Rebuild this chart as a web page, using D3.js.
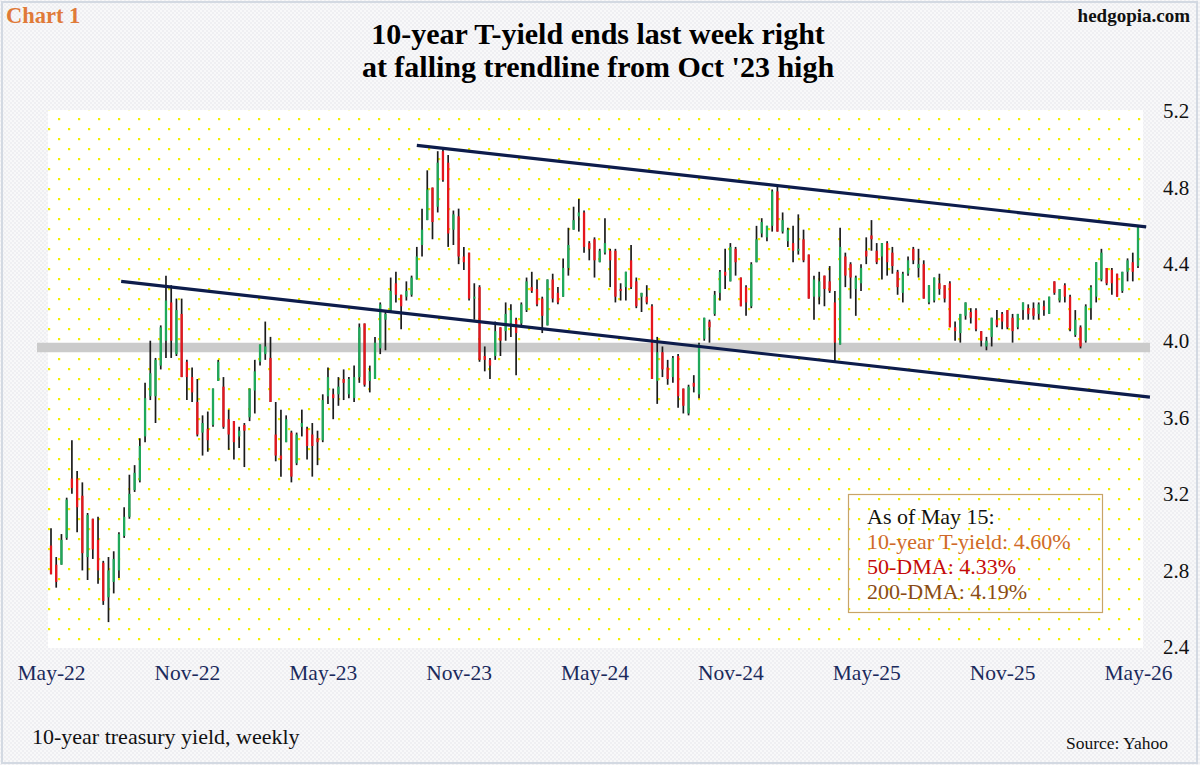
<!DOCTYPE html>
<html>
<head>
<meta charset="utf-8">
<script src="https://cdn.jsdelivr.net/npm/d3@7"></script>
<style>
  html, body { margin: 0; padding: 0; background: #ffffff; }
  svg { display: block; }
  text { font-family: "Liberation Serif", "Times New Roman", serif; }
</style>
</head>
<body>
<script>
// ---------------- DATA ----------------
const firstWeek = "2022-05-20";   // week ending date of first bar (weekly bars)
const opens = [2.93,2.83,2.83,2.97,3.28,3.28,3.19,2.87,3.07,2.96,2.84,2.66,2.74,2.80,2.98,3.08,3.22,3.27,3.50,3.71,
3.71,3.87,4.00,4.20,3.93,4.14,3.89,3.81,3.68,3.52,3.54,3.56,3.79,3.76,3.59,3.58,3.50,3.56,3.60,3.74,
3.89,3.93,3.91,3.51,3.40,3.47,3.52,3.36,3.55,3.54,3.51,3.49,3.48,3.71,3.72,3.72,3.80,3.72,3.70,3.81,
4.09,3.79,3.80,3.96,4.11,4.16,4.30,4.24,4.23,4.24,4.32,4.50,4.63,4.80,4.70,4.99,4.93,4.58,4.65,4.44,
4.46,4.22,4.28,3.92,3.90,3.92,4.07,4.05,4.09,4.11,4.09,4.16,4.28,4.27,4.22,4.08,4.32,4.25,4.23,4.38,
4.58,4.65,4.67,4.51,4.53,4.41,4.46,4.47,4.47,4.27,4.28,4.42,4.31,4.23,4.23,4.18,3.79,3.94,3.86,3.81,
3.92,3.75,3.62,3.78,3.72,4.01,4.10,4.14,4.25,4.36,4.31,4.48,4.33,4.28,4.18,4.41,4.56,4.54,4.60,4.78,
4.57,4.52,4.51,4.47,4.53,4.45,4.23,4.23,4.34,4.31,4.20,3.98,4.44,4.40,4.27,4.30,4.47,4.55,4.47,4.44,
4.51,4.46,4.36,4.25,4.35,4.48,4.38,4.40,4.20,4.21,4.30,4.29,4.30,4.07,4.04,4.13,4.15,4.16,4.05,3.97,
4.02,4.11,4.14,4.16,4.12,4.07,4.16,4.17,4.17,4.14,4.18,4.14,4.31,4.21,4.29,4.23,4.03,4.07,4.00,4.17,
4.23,4.32,4.38,4.37,4.35,4.26,4.36,4.41,4.39];
const highs = [3.02,2.87,2.99,3.18,3.48,3.32,3.26,3.10,3.07,3.08,2.85,2.87,2.90,3.00,3.13,3.30,3.35,3.49,3.78,4.00,
3.91,4.08,4.34,4.29,4.22,4.22,3.90,3.86,3.80,3.61,3.63,3.75,3.90,3.81,3.64,3.58,3.55,3.57,3.75,3.90,
3.98,4.10,4.02,3.68,3.64,3.61,3.53,3.52,3.64,3.55,3.57,3.53,3.72,3.86,3.75,3.81,3.85,3.81,3.87,4.09,
4.09,3.87,4.02,4.20,4.16,4.33,4.36,4.24,4.31,4.34,4.49,4.69,4.89,4.80,4.99,5.00,4.97,4.68,4.69,4.49,
4.46,4.30,4.29,3.97,3.91,4.10,4.07,4.20,4.19,4.12,4.20,4.33,4.36,4.32,4.23,4.32,4.35,4.28,4.43,4.59,
4.70,4.74,4.68,4.52,4.54,4.48,4.64,4.48,4.48,4.30,4.36,4.50,4.33,4.25,4.29,4.19,4.02,3.97,3.90,3.92,
3.93,3.75,3.77,3.82,3.99,4.12,4.11,4.26,4.37,4.48,4.51,4.49,4.33,4.29,4.41,4.60,4.64,4.60,4.79,4.81,
4.67,4.59,4.60,4.66,4.58,4.45,4.34,4.36,4.34,4.39,4.26,4.59,4.46,4.41,4.34,4.40,4.54,4.63,4.51,4.51,
4.52,4.49,4.37,4.36,4.44,4.49,4.48,4.42,4.29,4.33,4.35,4.29,4.31,4.10,4.14,4.20,4.17,4.17,4.05,4.02,
4.12,4.16,4.15,4.16,4.14,4.14,4.20,4.19,4.20,4.20,4.21,4.23,4.31,4.27,4.30,4.24,4.16,4.08,4.19,4.29,
4.41,4.48,4.38,4.38,4.35,4.36,4.43,4.46,4.60];
const lows = [2.78,2.71,2.83,2.96,3.20,3.00,2.80,2.75,2.86,2.73,2.62,2.53,2.68,2.76,2.97,3.07,3.21,3.26,3.47,3.69,
3.57,3.85,3.91,3.91,3.92,3.81,3.69,3.68,3.50,3.40,3.42,3.55,3.79,3.54,3.43,3.38,3.44,3.34,3.58,3.62,
3.87,3.90,3.68,3.37,3.29,3.47,3.26,3.35,3.50,3.38,3.29,3.35,3.47,3.67,3.59,3.66,3.69,3.70,3.68,3.78,
3.76,3.73,3.80,3.93,3.95,4.15,4.20,4.06,4.21,4.23,4.32,4.44,4.63,4.53,4.67,4.83,4.49,4.50,4.40,4.37,
4.21,4.11,3.89,3.84,3.80,3.90,3.92,4.00,4.02,3.82,4.08,4.15,4.25,4.18,4.04,4.08,4.20,4.19,4.23,4.34,
4.58,4.57,4.46,4.42,4.33,4.41,4.45,4.28,4.20,4.21,4.21,4.27,4.17,4.15,4.19,3.80,3.67,3.81,3.77,3.78,
3.65,3.62,3.61,3.73,3.70,4.00,3.99,4.13,4.21,4.27,4.31,4.34,4.18,4.13,4.17,4.41,4.54,4.52,4.57,4.57,
4.56,4.49,4.41,4.45,4.41,4.22,4.11,4.19,4.18,4.25,3.89,3.98,4.28,4.22,4.13,4.26,4.40,4.47,4.40,4.32,
4.34,4.35,4.24,4.20,4.34,4.40,4.33,4.22,4.19,4.20,4.24,4.20,4.07,4.00,3.99,4.11,4.09,4.05,3.97,3.95,
3.97,4.07,4.06,4.06,3.99,4.06,4.11,4.11,4.11,4.11,4.13,4.14,4.24,4.20,4.20,4.05,4.02,3.96,3.99,4.11,
4.20,4.31,4.29,4.24,4.23,4.25,4.31,4.31,4.38];
const closes = [2.78,2.74,2.96,3.17,3.23,3.13,2.89,3.09,2.91,2.80,2.64,2.80,2.86,2.99,3.08,3.20,3.31,3.45,3.70,3.83,
3.90,4.07,4.21,4.00,4.16,3.81,3.81,3.73,3.51,3.57,3.48,3.75,3.89,3.55,3.51,3.47,3.53,3.53,3.75,3.84,
3.98,3.97,3.68,3.40,3.38,3.59,3.29,3.51,3.57,3.45,3.45,3.47,3.69,3.81,3.70,3.76,3.78,3.80,3.81,4.07,
3.77,3.84,3.99,4.19,4.14,4.26,4.24,4.18,4.26,4.33,4.44,4.58,4.79,4.62,4.93,4.84,4.56,4.66,4.44,4.41,
4.22,4.23,3.90,3.90,3.87,4.05,4.00,4.14,4.16,4.04,4.19,4.31,4.26,4.19,4.13,4.32,4.22,4.20,4.38,4.50,
4.63,4.67,4.49,4.48,4.42,4.47,4.51,4.42,4.23,4.26,4.36,4.28,4.18,4.25,4.20,3.80,3.94,3.85,3.80,3.91,
3.71,3.66,3.76,3.76,3.98,4.12,4.07,4.24,4.36,4.34,4.49,4.41,4.18,4.20,4.40,4.53,4.62,4.60,4.78,4.57,
4.63,4.58,4.47,4.48,4.42,4.22,4.32,4.31,4.27,4.26,3.99,4.49,4.34,4.33,4.33,4.38,4.44,4.53,4.41,4.51,
4.41,4.39,4.28,4.35,4.42,4.42,4.40,4.22,4.29,4.33,4.27,4.22,4.07,4.05,4.14,4.20,4.12,4.06,4.00,4.00,
4.12,4.08,4.10,4.07,4.05,4.14,4.20,4.14,4.13,4.19,4.16,4.23,4.25,4.27,4.23,4.06,4.11,3.97,4.18,4.28,
4.41,4.46,4.30,4.30,4.23,4.36,4.42,4.36,4.60];

const xTickDates  = ["2022-05-20","2022-11-18","2023-05-19","2023-11-17","2024-05-17","2024-11-15","2025-05-16","2025-11-14","2026-05-15"];
const xTickLabels = ["May-22","Nov-22","May-23","Nov-23","May-24","Nov-24","May-25","Nov-25","May-26"];
const yTicks = [2.4, 2.8, 3.2, 3.6, 4.0, 4.4, 4.8, 5.2];

const supportLevel = 3.965;                                   // horizontal grey band
const upperTrend = [["2023-09-22", 5.02], ["2026-05-26", 4.595]];
const lowerTrend = [["2022-08-22", 4.31], ["2026-05-31", 3.705]];

const legendLines = ["As of May 15:", "10-year T-yield: 4.60%", "50-DMA: 4.33%", "200-DMA: 4.19%"];
const legendColors = ["#111111", "#cf6a2a", "#c40a0a", "#8a4c16"];

// ---------------- LAYOUT ----------------
const W = 1200, H = 765;
const plot = { left: 48, right: 1143, top: 110, bottom: 648 };

const parse = d3.timeParse("%Y-%m-%d");
const start = parse(firstWeek);
const dates = opens.map((_, i) => d3.timeDay.offset(start, 7 * i));
const bars = opens.map((o, i) => ({ date: dates[i], o, h: highs[i], l: lows[i], c: closes[i] }));

const x = d3.scaleTime().domain([dates[0], dates[dates.length - 1]]).range([51, 1138]);
const y = d3.scaleLinear().domain([2.4, 5.2]).range([647, 111]);

const svg = d3.select("body").append("svg").attr("width", W).attr("height", H);
const defs = svg.append("defs");

// outer subtle texture
const tex = defs.append("pattern").attr("id", "tex").attr("patternUnits", "userSpaceOnUse")
  .attr("width", 4).attr("height", 4);
tex.append("rect").attr("width", 4).attr("height", 4).attr("fill", "#f8f8f9");
tex.append("rect").attr("width", 2).attr("height", 2).attr("fill", "#efeff2");
tex.append("rect").attr("x", 2).attr("y", 2).attr("width", 2).attr("height", 2).attr("fill", "#efeff2");

// yellow dot grid
const dots = defs.append("pattern").attr("id", "dots").attr("patternUnits", "userSpaceOnUse")
  .attr("x", 58).attr("y", 118).attr("width", 20).attr("height", 20);
dots.append("rect").attr("width", 20).attr("height", 20).attr("fill", "#ffffff");
dots.append("rect").attr("x", 0).attr("y", 0).attr("width", 2.2).attr("height", 2.2).attr("fill", "#f3f000");
dots.append("rect").attr("x", 10).attr("y", 10).attr("width", 2.2).attr("height", 2.2).attr("fill", "#f3f000");

svg.append("rect").attr("width", W).attr("height", H).attr("fill", "url(#tex)");
svg.append("rect").attr("x", 2).attr("y", 2).attr("width", W - 5).attr("height", H - 4)
  .attr("fill", "none").attr("stroke", "#d3d9e2").attr("stroke-width", 2);

svg.append("rect").attr("x", plot.left).attr("y", plot.top)
  .attr("width", plot.right - plot.left).attr("height", plot.bottom - plot.top)
  .attr("fill", "url(#dots)");

// support band
svg.append("line").attr("x1", 37).attr("x2", 1150)
  .attr("y1", y(supportLevel)).attr("y2", y(supportLevel))
  .attr("stroke", "#cbcbcb").attr("stroke-width", 9.5);

// candles
const g = svg.append("g");
g.selectAll("line.wick").data(bars).join("line").attr("class", "wick")
  .attr("x1", d => x(d.date)).attr("x2", d => x(d.date))
  .attr("y1", d => y(d.h)).attr("y2", d => y(d.l))
  .attr("stroke", "#1b1b1b").attr("stroke-width", 1.7);
g.selectAll("rect.body").data(bars).join("rect").attr("class", "body")
  .attr("x", d => x(d.date) - 1.15).attr("width", 2.3)
  .attr("y", d => Math.min(y(d.o), y(d.c)))
  .attr("height", d => Math.max(1.2, Math.abs(y(d.o) - y(d.c))))
  .attr("fill", d => d.c >= d.o ? "#1fa85a" : "#e5161d");

// trendlines
const tl = d3.line().x(d => x(parse(d[0]))).y(d => y(d[1]));
[upperTrend, lowerTrend].forEach(t => {
  svg.append("path").attr("d", tl(t)).attr("fill", "none")
    .attr("stroke", "#0d1c4b").attr("stroke-width", 3.2).attr("stroke-linecap", "butt");
});

// x axis labels
const xAxis = d3.axisBottom(x).tickValues(xTickDates.map(parse))
  .tickFormat((d, i) => xTickLabels[i]).tickSize(0).tickPadding(0);
const xg = svg.append("g").attr("transform", "translate(0,665)").call(xAxis);
xg.select(".domain").remove();
xg.selectAll("text").attr("font-size", 21.5).attr("fill", "#1b2a5c")
  .attr("font-family", "Liberation Serif, serif").attr("dy", "0.71em");

// y axis labels (right)
const yAxis = d3.axisRight(y).tickValues(yTicks).tickFormat(d3.format(".1f")).tickSize(0).tickPadding(0);
const yg = svg.append("g").attr("transform", "translate(1163,0)").call(yAxis);
yg.select(".domain").remove();
yg.selectAll("text").attr("font-size", 21).attr("fill", "#111")
  .attr("font-family", "Liberation Serif, serif");

// titles
svg.append("text").attr("x", 6).attr("y", 23).attr("font-size", 22.5).attr("font-weight", "bold")
  .attr("fill", "#e07a38").text("Chart 1");
svg.append("text").attr("x", 1190).attr("y", 22).attr("text-anchor", "end").attr("font-size", 19)
  .attr("font-weight", "bold").attr("fill", "#111").text("hedgopia.com");
svg.append("text").attr("x", 598).attr("y", 44).attr("text-anchor", "middle").attr("font-size", 30)
  .attr("font-weight", "bold").attr("fill", "#000").text("10-year T-yield ends last week right");
svg.append("text").attr("x", 598).attr("y", 77).attr("text-anchor", "middle").attr("font-size", 30)
  .attr("font-weight", "bold").attr("fill", "#000").text("at falling trendline from Oct '23 high");

svg.append("text").attr("x", 32).attr("y", 744).attr("font-size", 22).attr("fill", "#111")
  .text("10-year treasury yield, weekly");
svg.append("text").attr("x", 1168).attr("y", 749).attr("text-anchor", "end").attr("font-size", 17.5)
  .attr("fill", "#111").text("Source: Yahoo");

// legend box
svg.append("rect").attr("x", 848.5).attr("y", 494.5).attr("width", 254).attr("height", 118)
  .attr("fill", "none").attr("stroke", "#c8a468").attr("stroke-width", 1.2);
legendLines.forEach((t, i) => {
  svg.append("text").attr("x", 867).attr("y", 524 + i * 25).attr("font-size", 22)
    .attr("fill", legendColors[i]).text(t);
});
</script>
</body>
</html>
